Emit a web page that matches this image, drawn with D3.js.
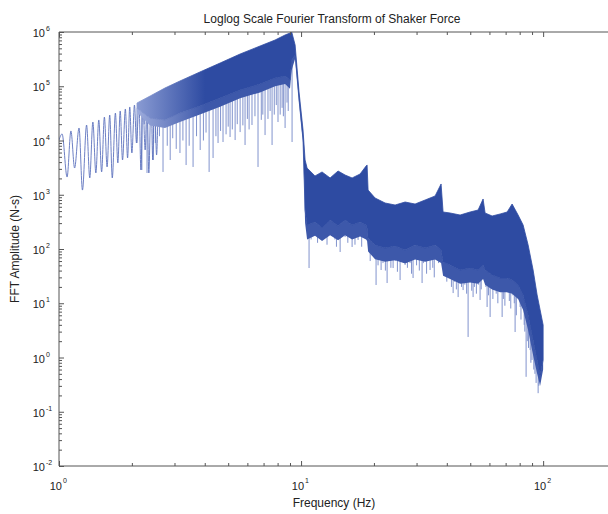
<!DOCTYPE html>
<html><head><meta charset="utf-8">
<script src="https://cdnjs.cloudflare.com/ajax/libs/d3/7.8.5/d3.min.js"></script>
<style>
body{margin:0;background:#fff;}
text{font-family:"Liberation Sans",Arial,sans-serif;fill:#222;}
</style>
</head>
<body>
<script>
// low frequency lobes, peak / null in turn (Hz, N-s)
lobeFreq=[1.00,1.03,1.08,1.12,1.16,1.21,1.25,1.30,1.34,1.38,1.42,1.46,1.50,1.54,1.58,1.62,1.66,1.71,1.75,1.79,1.83,1.88,1.92,1.96,2.00,2.05,2.09,2.14,2.18,2.22,2.27,2.31,2.35,2.40,2.44,2.48,2.53,2.57];
lobeAmp=[10200,13200,2120,15000,3110,17000,1220,19300,2040,21900,2520,23900,2630,27100,3250,29500,2040,32100,3850,35000,4370,38100,4760,41500,5880,45100,8990,49100,2860,53500,6680,58200,2520,63000,4370,69000,5400,75100];

// dense part: upper edge, lower edge of the dark band, lower edge of the fringe
bandFreq=[2.10,2.38,2.74,3.16,3.82,4.63,5.60,6.77,7.81,8.59,9.00,9.15,9.45,9.81,10.19,10.39,10.59,11.42,12.21,13.18,14.22,15.20,16.25,17.53,18.56,18.74,18.92,20.22,22.24,24.46,26.90,29.58,32.54,35.78,37.88,38.61,41.28,45.40,49.92,53.87,56.49,57.58,61.55,66.43,71.02,74.44,78.82,82.66,86.69,90.91,94.46,97.19,100];
bandTop=[49100,66100,92800,125000,183000,268000,393000,552000,712000,881000,958000,1000000,576000,78300,15600,4370,3110,2220,2630,2040,2740,2310,2040,2410,3390,3530,1220,871,705,647,735,675,800,949,1580,481,461,423,481,523,835,461,406,442,481,675,423,277,119,41.0,14.2,7.52,3.97];
bandBottom=[39700,26000,23900,32100,43300,60700,85300,110000,142000,155000,130000,305000,377000,55800,10200,523,277,315,244,343,265,343,277,315,277,244,160,119,104,114,95.9,119,104,119,95.9,57.6,50.7,41.0,44.6,41.0,50.7,41.0,33.2,29.2,29.2,26.8,21.7,14.2,6.07,2.10,0.90,0.475,0.90];
fringeBottom=[33000,19000,17000,22000,30000,42000,60000,77000,100000,110000,90000,200000,320000,50000,9000,300,150,175,140,180,145,180,150,170,150,140,90,65,58,62,54,64,58,64,55,32,28,23,24,23,28,22,18,16,16,15,12,7.5,3.2,1.1,0.5,0.3,0.6];

// downward spikes
dipFreq=[2.10,2.20,2.25,2.31,2.45,2.50,2.60,2.69,2.80,2.88,2.95,3.05,3.16,3.25,3.35,3.45,3.58,3.70,3.83,3.95,4.05,4.17,4.33,4.45,4.54,4.65,4.76,4.90,5.00,5.09,5.20,5.34,5.45,5.60,5.75,5.87,6.00,6.10,6.27,6.45,6.64,6.85,6.95,7.10,7.30,7.45,7.59,7.75,7.90,8.03,8.20,8.35,8.45,8.59,8.75,8.85,9.18,
10.79,11.00,11.21,11.70,12.00,12.33,12.80,13.00,13.43,13.80,14.00,14.50,14.80,15.20,15.60,16.00,16.25,16.70,17.00,17.20,17.80,18.04,18.30,
19.30,19.70,20.41,20.80,21.00,21.41,21.80,22.30,22.67,23.00,23.50,24.00,24.50,25.00,25.65,26.20,26.90,27.50,28.20,28.60,29.02,30.00,30.80,31.62,32.00,33.00,33.60,34.12,35.00,35.50,36.47,37.00,
38.90,39.36,40.00,40.70,41.80,42.48,43.00,43.80,44.55,45.00,46.00,46.71,47.50,48.30,48.98,50.00,50.70,51.36,52.00,53.00,54.00,54.90,55.50,56.00,
58.00,58.69,59.50,60.39,61.00,62.00,63.33,64.00,65.00,66.00,67.71,68.50,69.50,70.50,71.70,72.50,73.50,75.00,76.00,76.60,77.50,79.00,80.34,81.00,82.00,83.50,84.00,85.05,86.00,87.00,88.36,89.00,90.00,91.50,92.50,93.54,95.36,96.00,97.50];
dipAmp=[8990,2860,20000,2520,4370,9000,12000,2630,8000,4370,11000,7000,5880,10000,3530,8000,3250,12000,6680,10000,14000,2630,4760,12000,8990,15000,9380,13000,18000,11600,16000,10200,20000,14300,19000,8260,25000,16000,19300,28000,3250,24000,30000,12600,25000,35000,8260,30000,45000,21900,30000,40000,28000,17000,50000,35000,9380,
44.6,150,206,130,180,197,120,200,244,150,110,88.1,190,166,130,200,109,120,180,147,110,224,160,
60,75,21.7,50,70,41.0,55,40,23.6,65,45,44.6,60,38,26.8,60,50.7,45,55,35,29.2,50,40,23.6,55,35,60,41.0,45,30,62.7,55,
35,41.0,25,30,20,15.4,25,18,13.0,28,20,17.5,22,15,2.39,25,17,13.0,20,15,22,11.5,18,30,
20,8.53,14,5.58,20,12,17.5,15,10,18,5.58,12,9,18,15.4,11,8,14,10,2.95,6,12,8.53,5,9,4,3,0.44,2,1.5,1.37,0.8,0.9,0.6,0.5,0.34,0.22,0.3,0.4];

xMajor=[1,10,100];
xExp=["0","1","2"];
yMajor=[1e-2,1e-1,1,10,100,1e3,1e4,1e5,1e6];
yExp=["-2","-1","0","1","2","3","4","5","6"];

W=608;H=514;
x=d3.scaleLog().domain([1,200]).range([59,616]);
y=d3.scaleLog().domain([0.01,1e6]).range([466,32]);

svg=d3.select("body").append("svg")
.attr("width",W)
.attr("height",H);

svg.append("clipPath").attr("id","clip")
.append("rect").attr("x",59).attr("y",32).attr("width",557).attr("height",434);

defs=svg.append("defs");
g=defs.append("linearGradient").attr("id","fade")
.attr("gradientUnits","userSpaceOnUse")
.attr("x1",135).attr("x2",205).attr("y1",0).attr("y2",0);
g.append("stop").attr("offset","0").attr("stop-color","#8c9dd4");
g.append("stop").attr("offset","1").attr("stop-color","#2e4ba2");
g2=defs.append("linearGradient").attr("id","fade2")
.attr("gradientUnits","userSpaceOnUse")
.attr("x1",135).attr("x2",205).attr("y1",0).attr("y2",0);
g2.append("stop").attr("offset","0").attr("stop-color","#a0aedd");
g2.append("stop").attr("offset","1").attr("stop-color","#3d58aa");

plot=svg.append("g").attr("clip-path","url(#clip)");

band=bandFreq.map(function(f,i){return {f:f,hi:bandTop[i],lo:bandBottom[i],lo2:fringeBottom[i]};});
lobes=lobeFreq.map(function(f,i){return {f:f,v:lobeAmp[i]};});

bottomAt=function(f){
    i=d3.bisectRight(bandFreq,f)-1;
    i=Math.max(0,Math.min(i,bandFreq.length-2));
    t=(Math.log(f)-Math.log(bandFreq[i]))/(Math.log(bandFreq[i+1])-Math.log(bandFreq[i]));
    return Math.exp(Math.log(bandBottom[i])+t*(Math.log(bandBottom[i+1])-Math.log(bandBottom[i])));
};

dips=dipFreq.map(function(f,i){return {f:f,v:dipAmp[i],b:bottomAt(f)};});

plot.selectAll("line.dip")
.data(dips)
.enter()
.append("line")
.attr("class","dip")
.attr("x1",function(d){return x(d.f);})
.attr("x2",function(d){return x(d.f);})
.attr("y1",function(d){return y(d.b);})
.attr("y2",function(d){return y(d.v);})
.attr("stroke","#8193cd")
.attr("stroke-width",1);

plot.append("path")
.datum(lobes)
.attr("fill","none")
.attr("stroke","#5c72bd")
.attr("stroke-width",0.9)
.attr("d",d3.line().x(function(d){return x(d.f);}).y(function(d){return y(d.v);}).curve(d3.curveMonotoneX));

plot.append("path")
.datum(band)
.attr("fill","url(#fade2)")
.attr("d",d3.area().x(function(d){return x(d.f);}).y0(function(d){return y(d.lo2);}).y1(function(d){return y(d.lo);}));

plot.append("path")
.datum(band)
.attr("fill","url(#fade)")
.attr("stroke","url(#fade)")
.attr("stroke-width",0.8)
.attr("d",d3.area().x(function(d){return x(d.f);}).y0(function(d){return y(d.lo);}).y1(function(d){return y(d.hi);}));

// frame
ax="#555";
svg.append("line").attr("x1",59).attr("x2",616).attr("y1",32).attr("y2",32).attr("stroke",ax);
svg.append("line").attr("x1",59).attr("x2",616).attr("y1",466).attr("y2",466).attr("stroke",ax);
svg.append("line").attr("x1",59).attr("x2",59).attr("y1",32).attr("y2",466).attr("stroke",ax);

xMinor=[];
[1,10,100].forEach(function(d){for(k=2;k<10;k++){if(d*k<200)xMinor.push(d*k);}});
yMinor=[];
yMajor.slice(0,-1).forEach(function(d){for(k=2;k<10;k++)yMinor.push(d*k);});

svg.append("g").attr("transform","translate(0,466)")
.call(d3.axisBottom(x).tickValues(xMajor).tickSize(-5).tickFormat(""));
svg.append("g").attr("transform","translate(0,466)")
.call(d3.axisBottom(x).tickValues(xMinor).tickSize(-3).tickFormat(""));
svg.append("g").attr("transform","translate(0,32)")
.call(d3.axisTop(x).tickValues(xMajor).tickSize(-5).tickFormat(""));
svg.append("g").attr("transform","translate(0,32)")
.call(d3.axisTop(x).tickValues(xMinor).tickSize(-3).tickFormat(""));
svg.append("g").attr("transform","translate(59,0)")
.call(d3.axisLeft(y).tickValues(yMajor).tickSize(-5).tickFormat(""));
svg.append("g").attr("transform","translate(59,0)")
.call(d3.axisLeft(y).tickValues(yMinor).tickSize(-3).tickFormat(""));
svg.selectAll(".domain").remove();
svg.selectAll(".tick line").attr("stroke",ax);

// tick labels
xMajor.forEach(function(d,i){
    svg.append("text").attr("x",x(d)+3).attr("y",490).attr("text-anchor","end").attr("font-size",11).text("10");
    svg.append("text").attr("x",x(d)+4).attr("y",483).attr("font-size",7).text(xExp[i]);
});
yMajor.forEach(function(d,i){
    svg.append("text").attr("x",45).attr("y",y(d)+5).attr("text-anchor","end").attr("font-size",11).text("10");
    svg.append("text").attr("x",46).attr("y",y(d)-1).attr("font-size",7).text(yExp[i]);
});

svg.append("text").attr("x",332).attr("y",23).attr("text-anchor","middle").attr("font-size",12)
.text("Loglog Scale Fourier Transform of Shaker Force");
svg.append("text").attr("x",334).attr("y",507).attr("text-anchor","middle").attr("font-size",12)
.text("Frequency (Hz)");
svg.append("text").attr("transform","translate(19,249) rotate(-90)").attr("text-anchor","middle").attr("font-size",12)
.text("FFT Amplitude (N-s)");
</script>
</body></html>
